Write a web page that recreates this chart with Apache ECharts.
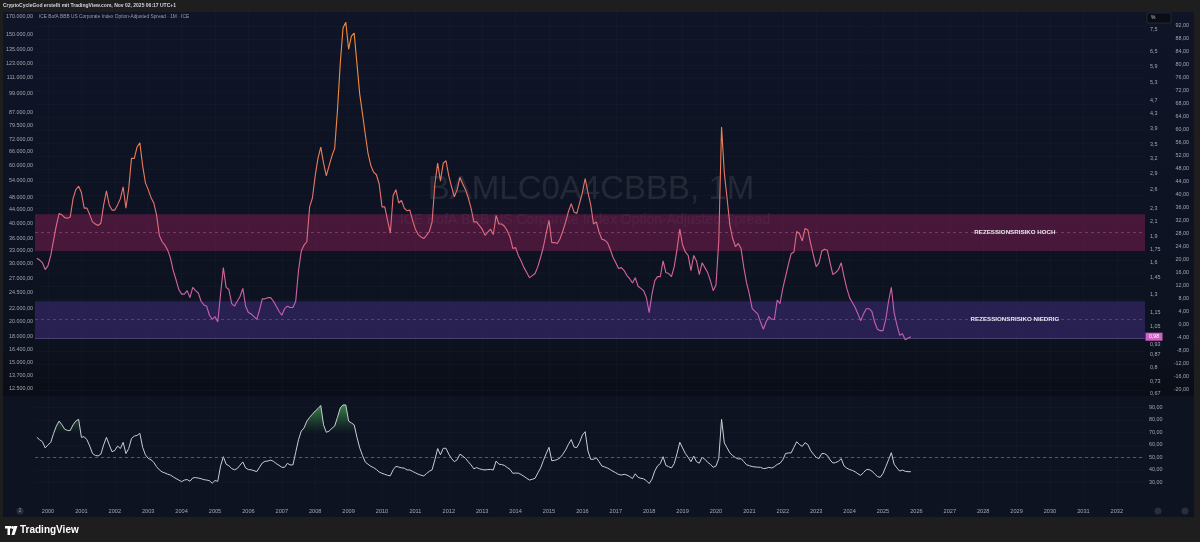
<!DOCTYPE html>
<html><head><meta charset="utf-8">
<script src="https://cdn.jsdelivr.net/npm/echarts@6/dist/echarts.min.js"></script>
<style>html,body{margin:0;padding:0;background:#1e1e1e;}#c{width:1200px;height:542px;}</style>
</head><body><div id="c"></div>
<script>
// ---------- data ----------
const START_YEAR = 1999, START_MONTH = 9; // first monthly bar: Sep 1999
const SPREAD = [
 1.65,1.63,1.60,1.53,
 1.57,1.68,1.86,2.05,2.22,2.20,2.16,2.15,2.17,2.45,2.60,2.66,
 2.55,2.30,2.30,2.20,2.10,2.07,2.05,2.08,2.35,2.58,2.35,2.27,
 2.27,2.35,2.45,2.65,2.30,2.62,3.20,3.20,3.45,3.55,3.05,2.72,
 2.60,2.47,2.38,2.20,1.92,1.84,1.80,1.74,1.65,1.52,1.43,1.34,
 1.30,1.30,1.33,1.27,1.36,1.33,1.31,1.24,1.21,1.20,1.13,1.10,
 1.12,1.08,1.30,1.55,1.36,1.34,1.22,1.20,1.24,1.28,1.35,1.20,
 1.15,1.14,1.12,1.10,1.17,1.26,1.26,1.27,1.27,1.24,1.20,1.16,
 1.13,1.18,1.20,1.19,1.19,1.24,1.52,1.73,1.80,1.84,2.32,2.46,
 2.85,3.20,3.45,3.10,2.85,3.05,3.25,3.42,4.40,6.00,7.60,7.90,
 6.60,7.20,7.35,6.00,4.90,4.30,3.75,3.30,3.05,2.92,2.87,2.70,
 2.32,2.32,2.12,1.95,2.50,2.60,2.38,2.42,2.30,2.26,2.27,2.12,
 2.00,1.93,1.90,1.88,1.92,1.97,2.10,2.70,3.10,2.75,3.10,3.15,
 2.85,2.65,2.48,2.60,2.82,2.70,2.60,2.46,2.30,2.10,2.10,2.05,
 2.00,1.92,1.96,2.00,1.93,2.19,2.07,2.07,2.04,1.98,1.90,1.76,
 1.77,1.68,1.62,1.55,1.50,1.45,1.47,1.49,1.56,1.66,1.78,1.95,
 2.12,1.83,1.83,1.82,1.88,1.98,2.10,2.25,2.37,2.24,2.22,2.38,
 2.55,2.80,2.55,2.35,2.07,2.10,1.96,1.87,1.86,1.83,1.75,1.66,
 1.60,1.54,1.55,1.52,1.47,1.44,1.40,1.45,1.37,1.35,1.33,1.27,
 1.15,1.30,1.42,1.46,1.46,1.62,1.50,1.49,1.46,1.56,1.75,2.00,
 1.80,1.72,1.68,1.52,1.68,1.62,1.48,1.60,1.55,1.50,1.42,1.33,
 1.38,1.85,3.94,2.90,2.45,2.05,1.88,1.78,1.82,1.76,1.55,1.40,
 1.30,1.18,1.16,1.14,1.08,1.03,1.08,1.12,1.10,1.10,1.25,1.22,
 1.35,1.46,1.58,1.70,1.72,1.97,1.94,1.85,2.01,1.99,1.82,1.68,
 1.56,1.60,1.73,1.75,1.74,1.60,1.48,1.50,1.53,1.60,1.46,1.35,
 1.27,1.23,1.19,1.14,1.09,1.14,1.18,1.18,1.16,1.08,1.03,1.02,
 1.02,1.10,1.24,1.36,1.15,1.06,0.99,1.00,0.96,0.97,0.98
];
const RSI = [
 66,64,62.5,57.5,
 60,62,69,75,79,76,72.5,71.5,71.5,76,79,80.4,
 66,66.5,64,59,53,51.5,51.1,52.5,60,66,60,54.5,
 55.5,59,57,62,53,57,65,67,67.5,69.2,58,52,
 49.2,48,46,42.5,40,38.3,37.5,36.5,35.8,34.3,33,31.8,
 30.5,31.8,32.2,30.8,33.5,33.8,33.4,32.9,32.1,31.8,31.3,29.3,
 31.4,30.8,43,50.5,44.5,43.2,41,40,41,43.7,46.3,41.5,
 40.2,40,39.3,38.5,42,45.5,46.8,47,47.7,46.8,45,43.6,
 42,42,45.2,43.9,43.9,54,64,71,73.5,79,82,84.5,
 87,89,91.5,76,70,71,73.2,75,82,89.5,91.9,91.9,
 79,77.5,76,66,57.5,51.5,46.2,44.4,42.8,41.7,40.2,38.2,
 37.2,36.4,35.6,35.2,40,42.8,42.2,41.6,41.3,39.9,39.9,38.7,
 37.6,36.5,35.7,35.1,37,38.8,40,48,57,52,57.2,57.2,
 52.5,49,46.5,48,52.5,51,49.2,46.4,43.9,40.8,41.8,40.8,
 40.2,39.9,40.2,40.3,39.9,47,44.5,44.2,43.5,41.8,40.3,37.2,
 37.4,37.3,36.2,34.8,33.2,31.8,32.4,33.2,37.5,41.5,47.5,53,
 58,47.2,47.6,48.2,49.7,52.5,56,60.5,64.2,58.2,57.8,62,
 67.8,70.5,55,48.4,48.4,49.6,46.5,43,42.3,41.4,40.2,38.8,
 37.6,36.3,35.8,36.4,35.8,34.6,33,36.8,34,33.2,32.8,31.3,
 29,32.5,39,43.1,45,50.5,43.5,42.5,41.5,45,53,62,
 57.5,53,50,46.5,51,46.5,45.3,50,48.5,46,44.4,42,
 43,49,80.4,61.5,57.5,53.5,51.3,49.8,48.6,49,46.5,44,
 43.3,42.6,42.3,42.1,42,41,41.2,42,41.4,42.5,44.3,45.2,
 48,53,53.5,53.5,58,62.5,60.2,58.7,61.7,60.2,55.5,52.5,
 50,49,53,53,51.5,47.9,45.4,45.8,46.8,49,43.1,41.3,
 40.2,39.5,38.4,36.8,35.5,37.8,40.1,40.2,39,36.7,34.6,34,
 37,42.5,48,53.7,44.5,41.5,39,39.8,38.8,38.5,38.5
];
const YEARS = [2000,2001,2002,2003,2004,2005,2006,2007,2008,2009,2010,2011,2012,2013,2014,2015,2016,2017,2018,2019,2020,2021,2022,2023,2024,2025,2026,2027,2028,2029,2030,2031,2032];
const LEFT_TICKS = [170000,150000,135000,123000,111000,99000,87000,79500,72000,66000,60000,54000,48000,44000,40000,36000,33000,30000,27000,24500,22000,20000,18000,16400,15000,13700,12500];
const PCT_TICKS = [7.5,6.5,5.9,5.3,4.7,4.3,3.9,3.5,3.2,2.9,2.6,2.3,2.1,1.9,1.75,1.6,1.45,1.3,1.15,1.05,0.93,0.87,0.8,0.73,0.67];
const OSC_TICKS = [92,88,84,80,76,72,68,64,60,56,52,48,44,40,36,32,28,24,20,16,12,8,4,0,-4,-8,-12,-16,-20];
const RSI_TICKS = [90,80,70,60,50,40,30];
const HIGH_BAND = [1.73, 2.21];
const LOW_BAND = [0.97, 1.24];
const BAND_LABELS = ['REZESSIONSRISIKO HOCH', 'REZESSIONSRISIKO NIEDRIG'];
const LABEL_YEAR = 2028.95;
const RSI_OB = 70, RSI_MID = 50;

// ---------- build ----------
const t0 = START_YEAR + (START_MONTH - 1) / 12;
const X = SPREAD.map((_, i) => t0 + i / 12);
const spreadData = SPREAD.map((v, i) => [X[i], v]);
const rsiData = RSI.map((v, i) => [X[i], v]);
const rsiFill = RSI.map((v, i) => [X[i], Math.max(v, RSI_OB)]);
const XMIN = 1999.6108, XMAX = 2032.845;
const last = SPREAD[SPREAD.length - 1];
const F = 'Liberation Sans, Arial, sans-serif';
const AX = '#a4a7b0';
const dec = v => String(v).replace('.', ',');
const deNum = v => Math.round(v).toString().replace(/\B(?=(\d{3})+(?!\d))/g, '.') + ',00';
const gm = (a, b) => Math.sqrt(a * b);

const chart = echarts.init(document.getElementById('c'), null, {renderer: 'canvas'});
chart.setOption({
  backgroundColor: '#1e1e1e',
  animation: false,
  grid: [
    {left: 35, right: 55, top: 12, height: 383},
    {left: 35, right: 55, top: 396, height: 107}
  ],
  xAxis: [
    {type: 'value', gridIndex: 0, min: XMIN, max: XMAX,
     axisLine: {show: false}, axisLabel: {show: false},
     axisTick: {show: false, customValues: YEARS},
     splitLine: {show: true, lineStyle: {color: 'rgba(255,255,255,0.02)', width: 1}}},
    {type: 'value', gridIndex: 1, min: XMIN, max: XMAX,
     axisLine: {show: false},
     axisTick: {show: false, customValues: YEARS},
     splitLine: {show: true, lineStyle: {color: 'rgba(255,255,255,0.02)', width: 1}},
     axisLabel: {customValues: YEARS, formatter: v => String(Math.round(v)), color: AX, fontSize: 5.6, fontFamily: F, margin: 5}}
  ],
  yAxis: [
    {type: 'log', gridIndex: 0, position: 'left', min: 11955, max: 176060,
     axisLine: {show: false}, axisTick: {show: false}, splitLine: {show: false},
     axisLabel: {customValues: LEFT_TICKS, formatter: deNum, color: AX, fontSize: 5.4, fontFamily: F, margin: 2}},
    {type: 'log', gridIndex: 0, position: 'right', min: 0.6656, max: 8.452,
     axisLine: {show: false}, axisTick: {show: false}, splitLine: {show: false},
     axisLabel: {customValues: PCT_TICKS, formatter: dec, color: AX, fontSize: 5.4, fontFamily: F, margin: 5, align: 'left'}},
    {type: 'value', gridIndex: 0, position: 'right', min: -21.54, max: 96.31,
     axisLine: {show: false},
     axisTick: {show: false, customValues: OSC_TICKS},
     splitLine: {show: true, lineStyle: {color: 'rgba(255,255,255,0.02)'}},
     axisLabel: {customValues: OSC_TICKS, formatter: v => v.toFixed(2).replace('.', ','), color: AX, fontSize: 5.4, fontFamily: F, margin: 44, align: 'right'}},
    {type: 'value', gridIndex: 1, position: 'right', min: 13.44, max: 99.04,
     axisLine: {show: false},
     axisTick: {show: false, customValues: RSI_TICKS},
     splitLine: {show: true, lineStyle: {color: 'rgba(255,255,255,0.02)'}},
     axisLabel: {customValues: RSI_TICKS, formatter: v => v.toFixed(2).replace('.', ','), color: AX, fontSize: 5.4, fontFamily: F, margin: 4, align: 'left'}}
  ],
  visualMap: [{
    type: 'continuous', show: false, seriesIndex: 0, dimension: 1, min: 0.95, max: 4.95,
    inRange: {color: ['#c05cbc', '#d4639f', '#e06b7f', '#e6726c', '#ea7a5e', '#ed8050', '#ef8546', '#f18940', '#f28b3b']}
  }],
  series: [
    {
      type: 'line', name: 'BBB OAS', xAxisIndex: 0, yAxisIndex: 1, data: spreadData,
      showSymbol: false, lineStyle: {width: 1.1}, z: 5,
      markArea: {
        silent: true,
        data: [
          [{xAxis: XMIN, yAxis: HIGH_BAND[1], itemStyle: {color: 'rgba(120,28,78,0.55)'}}, {xAxis: XMAX, yAxis: HIGH_BAND[0]}],
          [{xAxis: XMIN, yAxis: LOW_BAND[1], itemStyle: {color: 'rgba(62,44,120,0.55)'}}, {xAxis: XMAX, yAxis: LOW_BAND[0]}]
        ]
      },
      markLine: {
        silent: true, symbol: 'none', label: {show: false},
        data: [
          {yAxis: gm(HIGH_BAND[0], HIGH_BAND[1]), lineStyle: {color: 'rgba(220,120,170,0.35)', type: [3, 3], width: 1}},
          {yAxis: gm(LOW_BAND[0], LOW_BAND[1]), lineStyle: {color: 'rgba(160,130,220,0.35)', type: [3, 3], width: 1}},
          {yAxis: LOW_BAND[0], lineStyle: {color: 'rgba(170,140,230,0.35)', type: 'solid', width: 1}}
        ]
      },
      markPoint: {
        silent: true,
        data: [
          {coord: [LABEL_YEAR, gm(HIGH_BAND[0], HIGH_BAND[1])], symbolSize: 0,
           label: {show: true, position: 'inside', formatter: BAND_LABELS[0], color: '#e6e6ee', fontSize: 6.2, fontWeight: 600, fontFamily: F}},
          {coord: [LABEL_YEAR, gm(LOW_BAND[0], LOW_BAND[1])], symbolSize: 0,
           label: {show: true, position: 'inside', formatter: BAND_LABELS[1], color: '#e6e6ee', fontSize: 6.2, fontWeight: 600, fontFamily: F}},
          {coord: [XMAX, last], symbol: 'rect', symbolSize: [17, 8], symbolOffset: [9, 0],
           itemStyle: {color: '#d45fc4'},
           label: {show: true, position: 'inside', formatter: dec(last.toFixed(2)), color: '#ffffff', fontSize: 5.2, fontFamily: F}}
        ]
      }
    },
    {
      type: 'line', name: 'RSI fill', xAxisIndex: 1, yAxisIndex: 3, data: rsiFill,
      showSymbol: false, lineStyle: {opacity: 0, width: 0}, silent: true, z: 3,
      areaStyle: {origin: RSI_OB, color: {type: 'linear', x: 0, y: 404, x2: 0, y2: 433, global: true,
        colorStops: [{offset: 0, color: 'rgba(80,195,95,0.95)'}, {offset: 1, color: 'rgba(60,150,70,0.0)'}]}}
    },
    {
      type: 'line', name: 'RSI', xAxisIndex: 1, yAxisIndex: 3, data: rsiData,
      showSymbol: false, lineStyle: {width: 1, color: '#c9ccd4'}, itemStyle: {color: '#c9ccd4'}, z: 4,
      markLine: {silent: true, symbol: 'none', label: {show: false},
        data: [{yAxis: RSI_MID}], lineStyle: {color: 'rgba(140,143,155,0.55)', type: [3, 3], width: 1}}
    }
  ],
  graphic: [
    {type: 'rect', z: -10, silent: true, shape: {x: 3, y: 12, width: 1191, height: 505}, style: {fill: '#0e1321'}},
    {type: 'rect', z: -9, silent: true, shape: {x: 3, y: 12, width: 1191, height: 384},
     style: {fill: {type: 'linear', x: 0, y: 0, x2: 0, y2: 1, colorStops: [{offset: 0, color: '#0f1427'}, {offset: 0.85, color: '#0d1220'}, {offset: 1, color: '#0a0d17'}]}}},
    {type: 'text', z: -5, silent: true, x: 591, y: 190,
     style: {text: 'BAMLC0A4CBBB, 1M', fill: 'rgba(255,255,255,0.09)', font: '33px ' + F, textAlign: 'center', textVerticalAlign: 'middle'}},
    {type: 'text', z: -5, silent: true, x: 585, y: 220,
     style: {text: 'ICE BofA BBB US Corporate Index Option-Adjusted Spread', fill: 'rgba(255,255,255,0.09)', font: '14px ' + F, textAlign: 'center', textVerticalAlign: 'middle'}},
    {type: 'text', silent: true, x: 3, y: 6,
     style: {text: 'CryptoCycleGod erstellt mit TradingView.com, Nov 02, 2025 06:17 UTC+1', fill: '#d1d4dc', font: 'bold 5px ' + F, textVerticalAlign: 'middle'}},
    {type: 'text', silent: true, x: 39, y: 17,
     style: {text: 'ICE BofA BBB US Corporate Index Option-Adjusted Spread · 1M · ICE', fill: '#9a9eaa', font: '4.8px ' + F, textVerticalAlign: 'middle'}},
    {type: 'rect', silent: true, shape: {x: 1147, y: 13, width: 24, height: 10, r: 1}, style: {fill: '#0a0d15', stroke: '#2a2e39', lineWidth: 0.8}},
    {type: 'text', silent: true, x: 1151, y: 18, style: {text: '%', fill: '#c8cad2', font: '5px ' + F, textVerticalAlign: 'middle'}},
    {type: 'circle', silent: true, shape: {cx: 20, cy: 511, r: 3.5}, style: {fill: '#2a2e39'}},
    {type: 'text', silent: true, x: 20, y: 511, style: {text: '2', fill: '#9598a1', font: '4.5px ' + F, textAlign: 'center', textVerticalAlign: 'middle'}},
    {type: 'circle', silent: true, shape: {cx: 1158, cy: 511, r: 3.5}, style: {fill: '#2a2e39'}},
    {type: 'circle', silent: true, shape: {cx: 1185, cy: 511, r: 3.5}, style: {fill: '#2a2e39'}},
    {type: 'rect', silent: true, shape: {x: 5, y: 526, width: 6, height: 2.5}, style: {fill: '#ffffff'}},
    {type: 'rect', silent: true, shape: {x: 7.5, y: 526, width: 2.5, height: 9}, style: {fill: '#ffffff'}},
    {type: 'circle', silent: true, shape: {cx: 12.5, cy: 527.5, r: 1.4}, style: {fill: '#ffffff'}},
    {type: 'polygon', silent: true, shape: {points: [[14, 526], [17.5, 526], [14.5, 535], [11.5, 535]]}, style: {fill: '#ffffff'}},
    {type: 'text', silent: true, x: 20, y: 530.5, style: {text: 'TradingView', fill: '#ffffff', font: 'bold 10px ' + F, textVerticalAlign: 'middle'}}
  ]
});
</script>
</body></html>
